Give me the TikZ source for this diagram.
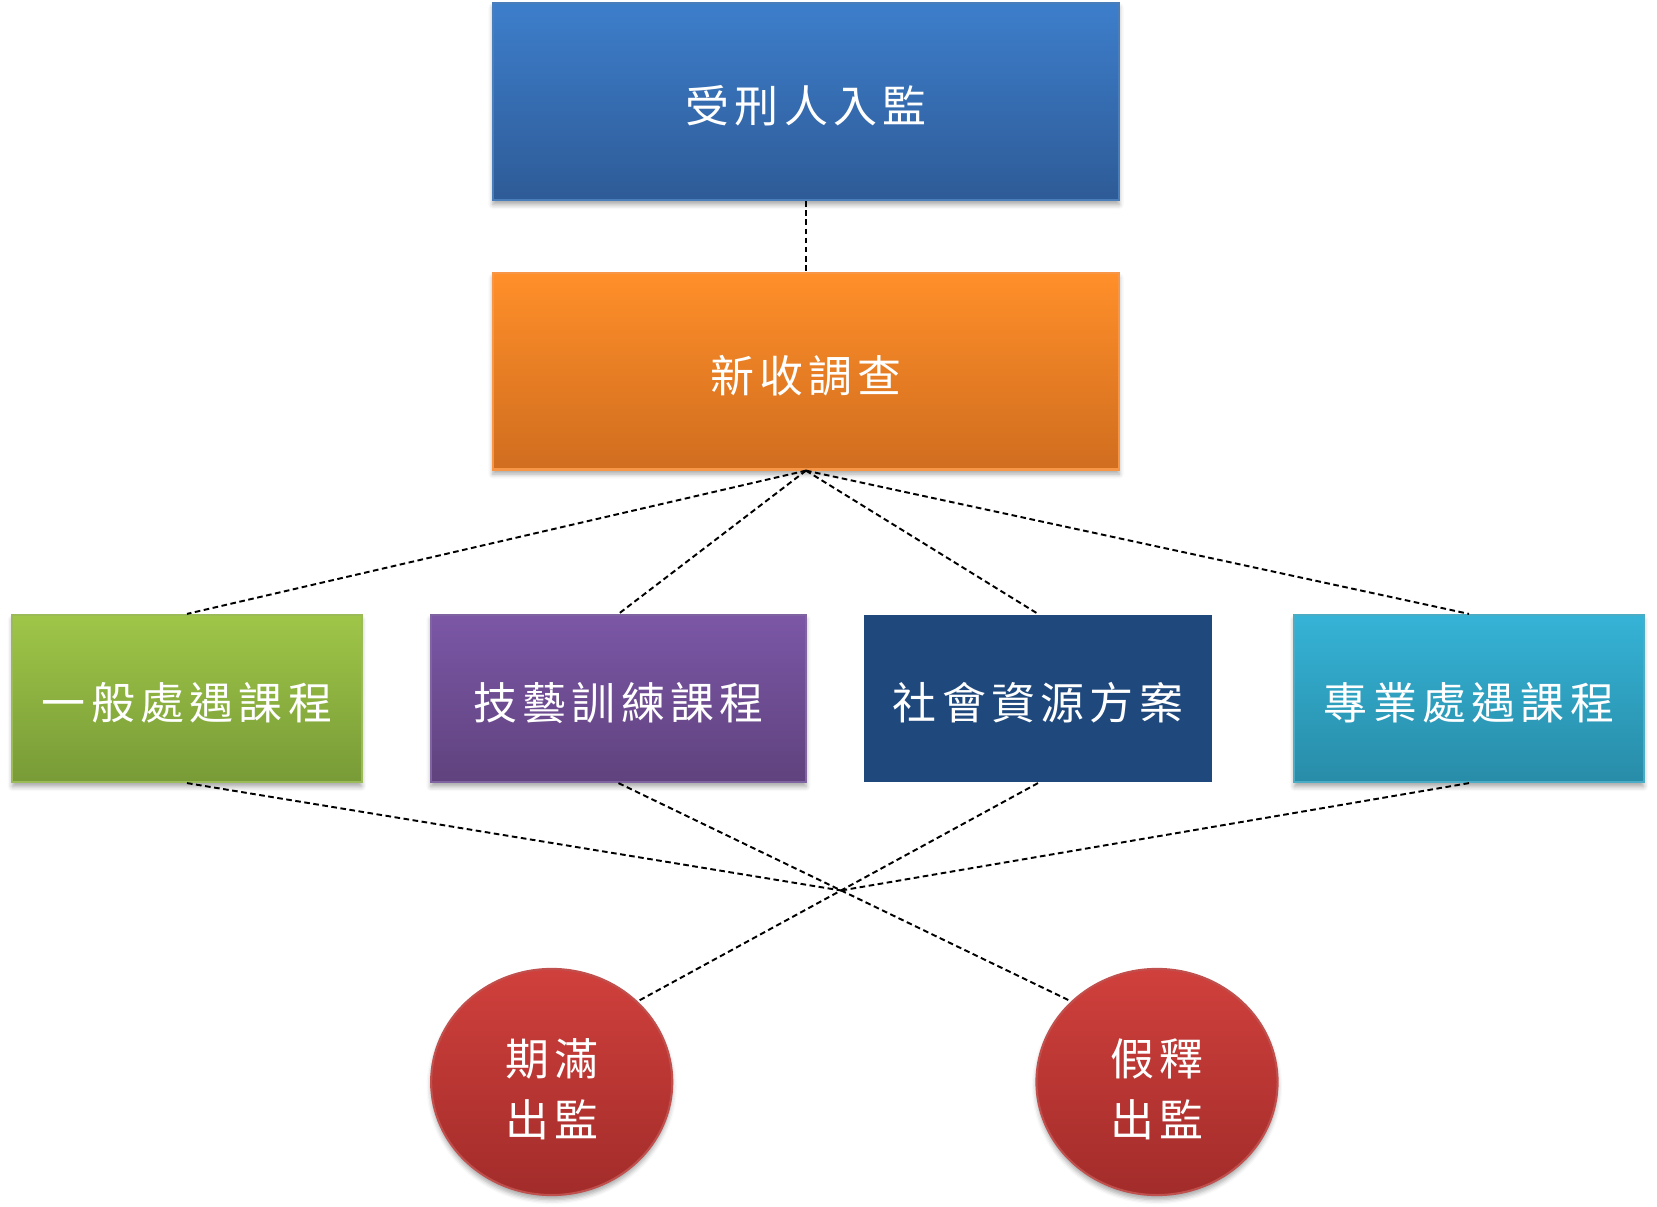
\documentclass[tikz,border=0pt]{standalone}
\usepackage{fontspec}
\newfontfamily\cjk[LetterSpace=12]{Noto Sans CJK TC}
\usetikzlibrary{shapes.geometric,shadows.blur}

\definecolor{intakeTop}{HTML}{3D7ECB}
\definecolor{intakeBot}{HTML}{2E5B97}
\definecolor{intakeLine}{HTML}{4A7EBB}
\definecolor{surveyTop}{HTML}{FF8F29}
\definecolor{surveyBot}{HTML}{D06D1F}
\definecolor{surveyLine}{HTML}{F79646}
\definecolor{generalTop}{HTML}{9FC648}
\definecolor{generalBot}{HTML}{789B37}
\definecolor{generalLine}{HTML}{9BBB59}
\definecolor{skillTop}{HTML}{7B57A6}
\definecolor{skillBot}{HTML}{60427E}
\definecolor{skillLine}{HTML}{8064A2}
\definecolor{socialFill}{HTML}{1F497D}
\definecolor{specialTop}{HTML}{35B3D6}
\definecolor{specialBot}{HTML}{288CA8}
\definecolor{specialLine}{HTML}{4BACC6}
\definecolor{releaseTop}{HTML}{D0403C}
\definecolor{releaseBot}{HTML}{A22C2A}
\definecolor{releaseLine}{HTML}{C0504D}

\tikzset{
  words/.style={text=white, inner sep=0pt, line width=0.6pt,
    font=\cjk\fontsize{12.5}{15}\selectfont},
  stage/.style={words, rectangle, text height=13.4pt, text depth=1.5pt},
  shadowed/.style={blur shadow={shadow xshift=0pt, shadow yshift=-1.3pt,
    shadow blur radius=1.3pt, shadow opacity=35}},
  track/.style={stage, minimum height=1.67cm},
  release/.style={words, ellipse, shadowed, minimum width=2.41cm,
    minimum height=2.26cm, align=center,
    top color=releaseTop, bottom color=releaseBot, draw=releaseLine},
  link/.style={black, line width=0.55pt, dash pattern=on 1.6pt off 1pt}
}

\begin{document}
\begin{tikzpicture}[x=0.01cm, y=-0.01cm]
\useasboundingbox (0,0) rectangle (1657,1207);

% Intake and survey
\node[stage, shadowed, minimum width=6.26cm, minimum height=1.97cm,
  top color=intakeTop, bottom color=intakeBot, draw=intakeLine]
  (intake) at (806,101.5) {受刑人入監};
\node[stage, shadowed, minimum width=6.26cm, minimum height=1.96cm,
  top color=surveyTop, bottom color=surveyBot, draw=surveyLine]
  (survey) at (806,371.5) {新收調查};

% Treatment tracks
\node[track, shadowed, minimum width=3.49cm, top color=generalTop,
  bottom color=generalBot, draw=generalLine] (general) at (187,698.5) {一般處遇課程};
\node[track, shadowed, minimum width=3.75cm, top color=skillTop,
  bottom color=skillBot, draw=skillLine] (skill) at (618.5,698.5) {技藝訓練課程};
\node[track, minimum width=3.47cm, fill=socialFill] (social) at (1038,698.5) {社會資源方案};
\node[track, shadowed, minimum width=3.49cm, top color=specialTop,
  bottom color=specialBot, draw=specialLine] (special) at (1469,698.5) {專業處遇課程};

% Release
\node[release] (expiry) at (551.7,1082) {\rule{0pt}{14.6pt}期滿\\[2.5pt]出監};
\node[release] (parole) at (1157,1082) {\rule{0pt}{14.6pt}假釋\\[2.5pt]出監};

% Links
\draw[link] (intake.south) -- (survey.north);
\foreach \track in {general,skill,social,special}
  \draw[link] (survey.south) -- (\track.north);

\coordinate (cross) at (intersection of skill.south--parole.north west and social.south--expiry.north east);
\draw[link] (skill.south) -- (parole.north west);
\draw[link] (social.south) -- (expiry.north east);
\draw[link] (general.south) -- (cross);
\draw[link] (special.south) -- (cross);

\end{tikzpicture}
\end{document}
